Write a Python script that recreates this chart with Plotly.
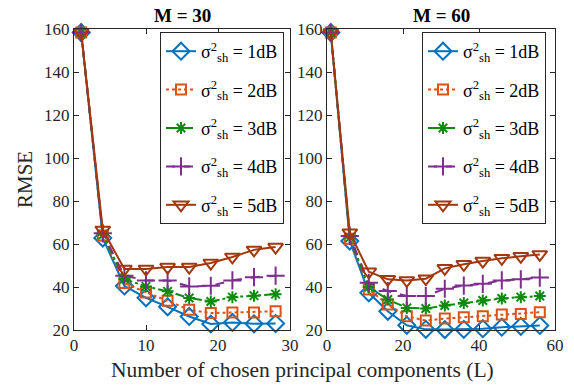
import plotly.graph_objects as go

# ---------------- data ----------------
L_m30 = [1, 4, 7, 10, 13, 16, 19, 22, 25, 28]
L_m60 = [1, 6, 11, 16, 21, 26, 31, 36, 41, 46, 51, 56]

series_names = ["1dB", "2dB", "3dB", "4dB", "5dB"]

rmse_m30 = {
    "1dB": [158.5, 62.8, 40.5, 35.0, 30.8, 26.3, 22.8, 23.5, 22.9, 23.0],
    "2dB": [158.5, 64.0, 41.9, 37.5, 33.6, 29.4, 27.9, 28.2, 28.2, 28.7],
    "3dB": [158.5, 64.3, 43.7, 40.3, 38.0, 34.9, 33.3, 35.3, 36.0, 36.7],
    "4dB": [158.5, 65.0, 45.3, 43.1, 43.1, 40.3, 40.6, 43.1, 44.6, 45.3],
    "5dB": [158.5, 66.6, 48.4, 48.4, 49.3, 49.3, 51.2, 54.0, 57.3, 58.6],
}
rmse_m60 = {
    "1dB": [158.5, 61.4, 37.3, 28.7, 22.2, 20.3, 20.2, 20.3, 20.6, 21.3, 21.7, 22.1],
    "2dB": [158.5, 62.5, 38.9, 31.9, 26.4, 24.4, 25.3, 25.9, 26.4, 27.2, 27.5, 28.3],
    "3dB": [158.5, 63.0, 40.0, 34.2, 30.3, 30.0, 31.4, 32.6, 33.7, 34.7, 35.3, 35.8],
    "4dB": [158.5, 63.8, 42.0, 38.1, 35.8, 35.8, 39.2, 40.7, 41.5, 43.1, 43.6, 44.4],
    "5dB": [158.5, 65.3, 47.1, 43.6, 43.1, 43.9, 48.7, 50.6, 52.1, 53.4, 54.3, 55.2],
}

x_ticks_m30 = [0, 10, 20, 30]
x_ticks_m60 = [0, 20, 40, 60]
y_ticks = [20, 40, 60, 80, 100, 120, 140, 160]

titles = ["M = 30", "M = 60"]
x_label = "Number of chosen principal components (L)"
y_label = "RMSE"

# ---------------- styles ----------------
colors = ["#0072BD", "#D95319", "#0E8A0E", "#7E2F8E", "#A2380C"]
symbols = ["diamond-open", "square-open", "asterisk-open", "cross-thin-open", "triangle-down-open"]
sizes = [13, 10, 10, 13, 13]
dashes = ["solid", "dot", "dashdot", "dash", "solid"]

FONT = "Liberation Serif, Times New Roman, serif"
AX = "#262626"

fig = go.Figure()

for panel, (xs, data, xa, ya, leg) in enumerate([
    (L_m30, rmse_m30, "x", "y", "legend"),
    (L_m60, rmse_m60, "x2", "y2", "legend2"),
]):
    for i, name in enumerate(series_names):
        fig.add_trace(go.Scatter(
            x=xs, y=data[name], xaxis=xa, yaxis=ya,
            mode="lines+markers",
            name="σ<sup>2</sup><sub>sh</sub> = " + name,
            legend=leg, legendgroup=f"{panel}-{i}",
            line=dict(color=colors[i], width=2, dash=dashes[i]),
            marker=dict(symbol=symbols[i], size=sizes[i], color=colors[i],
                        line=dict(color=colors[i], width=2)),
            cliponaxis=False,
        ))

W, H = 574, 388
def px_x(v):
    return v / W
def px_y(v):
    return 1 - v / H

axis_common = dict(
    showgrid=False, zeroline=False, showline=True, linecolor=AX, linewidth=1,
    mirror="ticks", ticks="inside", ticklen=5, tickcolor=AX, tickwidth=1,
    tickfont=dict(family=FONT, size=17, color=AX), automargin=False,
)

legend_common = dict(
    xanchor="left", yanchor="top",
    bgcolor="white", bordercolor=AX, borderwidth=1,
    font=dict(family=FONT, size=18, color="black"),
    tracegroupgap=12, itemwidth=30,
)

fig.update_layout(
    width=W, height=H,
    margin=dict(l=0, r=0, t=0, b=0, pad=0, autoexpand=False),
    paper_bgcolor="white", plot_bgcolor="white",
    font=dict(family=FONT, color=AX),
    xaxis=dict(domain=[px_x(74), px_x(290)], range=[0, 30], tickvals=x_ticks_m30,
               anchor="y", **axis_common),
    yaxis=dict(domain=[px_y(330), px_y(29.3)], range=[20, 160], tickvals=y_ticks,
               anchor="x", **axis_common),
    xaxis2=dict(domain=[px_x(327), px_x(555)], range=[0, 60], tickvals=x_ticks_m60,
                anchor="y2", **axis_common),
    yaxis2=dict(domain=[px_y(330), px_y(29.3)], range=[20, 160], tickvals=y_ticks,
                anchor="x2", **axis_common),
    legend=dict(x=px_x(160), y=px_y(32), **legend_common),
    legend2=dict(x=px_x(422), y=px_y(32), **legend_common),
    showlegend=True,
    annotations=[
        dict(text="<b>" + titles[0] + "</b>", x=px_x(182), y=px_y(16), xref="paper", yref="paper",
             xanchor="center", yanchor="middle",
             showarrow=False, font=dict(family=FONT, size=19, color="black")),
        dict(text="<b>" + titles[1] + "</b>", x=px_x(441), y=px_y(16), xref="paper", yref="paper",
             xanchor="center", yanchor="middle",
             showarrow=False, font=dict(family=FONT, size=19, color="black")),
        dict(text=x_label, x=px_x(302), y=px_y(369.5), xref="paper", yref="paper",
             xanchor="center", yanchor="middle",
             showarrow=False, font=dict(family=FONT, size=21.5, color=AX)),
        dict(text=y_label, x=px_x(25), y=px_y(180), xref="paper", yref="paper",
             xanchor="center", yanchor="middle",
             showarrow=False, textangle=-90, font=dict(family=FONT, size=21, color=AX)),
    ],
)

# remove the default 8px page margin so the figure fills the window exactly
fig.write_html("out.html", config={"displayModeBar": False},
               post_script="document.body.style.margin='0';")
